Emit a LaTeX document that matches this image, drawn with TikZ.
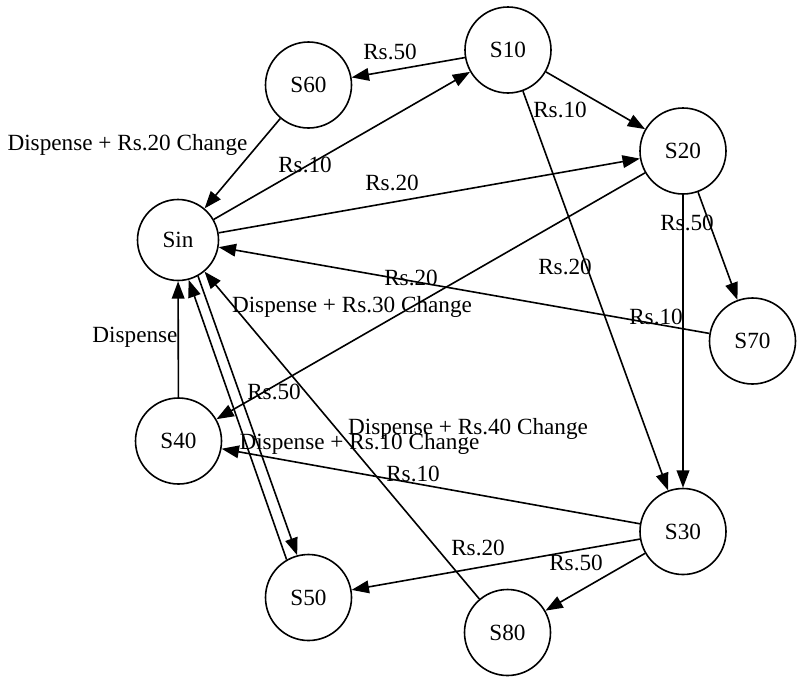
\documentclass[tikz,border=0pt]{standalone}
\usepackage{fontspec}
\setmainfont{Liberation Serif}
\usetikzlibrary{arrows.meta}
\begin{document}
\begin{tikzpicture}[x=0.75pt,y=-0.75pt,
  state/.style={circle,draw,line width=1.2pt,minimum size=64.5pt,inner sep=0pt,
    font=\fontsize{17.4pt}{20pt}\selectfont},
  sinstate/.style={state,minimum size=60.75pt},
  trans/.style={line width=1.2pt,-{Triangle[length=13pt,width=9.5pt]}},
  lbl/.style={font=\fontsize{17.4pt}{20pt}\selectfont,inner sep=0pt,
    text height=11.5pt,text depth=0pt}]
\useasboundingbox (0,0) rectangle (803,683);

% states
\node[sinstate] (Sin) at (178,240) {Sin};
\node[state] (S10) at (508,50) {S10};
\node[state] (S60) at (308.5,85) {S60};
\node[state] (S20) at (683,151) {S20};
\node[state] (S70) at (752.5,341) {S70};
\node[state] (S30) at (683,531.5) {S30};
\node[state] (S80) at (507.5,632.5) {S80};
\node[state] (S50) at (308.5,597.5) {S50};
\node[state] (S40) at (178.5,441) {S40};

% coin inserts
\draw[trans] (Sin) -- (S10);
\draw[trans] (Sin) -- (S20);
\draw[trans] (Sin.-61) -- (S50.105);
\draw[trans] (S10) -- (S20);
\draw[trans] (S10) -- (S30);
\draw[trans] (S10) -- (S60);
\draw[trans] (S20) -- (S30);
\draw[trans] (S20) -- (S40);
\draw[trans] (S20) -- (S70);
\draw[trans] (S30) -- (S40);
\draw[trans] (S30) -- (S50);
\draw[trans] (S30) -- (S80);

% dispensing back to the start
\draw[trans] (S40) -- (Sin);
\draw[trans] (S50.120) -- (Sin.-75);
\draw[trans] (S60) -- (Sin);
\draw[trans] (S70) -- (Sin);
\draw[trans] (S80) -- (Sin);

% transition labels
\node[lbl] (l1) at (305,165) {Rs.10};
\node[lbl] (l2) at (392,183) {Rs.20};
\node[lbl] (l3) at (274,392) {Rs.50};
\node[lbl] (l4) at (560,110) {Rs.10};
\node[lbl] (l5) at (565,267) {Rs.20};
\node[lbl] (l6) at (390,52) {Rs.50};
\node[lbl] (l7) at (656,317) {Rs.10};
\node[lbl] (l8) at (411,278) {Rs.20};
\node[lbl] (l9) at (687,223) {Rs.50};
\node[lbl] (l10) at (413,474) {Rs.10};
\node[lbl] (l11) at (478,548) {Rs.20};
\node[lbl] (l12) at (576,563) {Rs.50};
\node[lbl] (l13) at (135,335) {Dispense};
\node[lbl] (l14) at (359.5,442) {Dispense + Rs.10 Change};
\node[lbl] (l15) at (127.5,143) {Dispense + Rs.20 Change};
\node[lbl] (l16) at (352,305) {Dispense + Rs.30 Change};
\node[lbl] (l17) at (468,427) {Dispense + Rs.40 Change};
\end{tikzpicture}
\end{document}
